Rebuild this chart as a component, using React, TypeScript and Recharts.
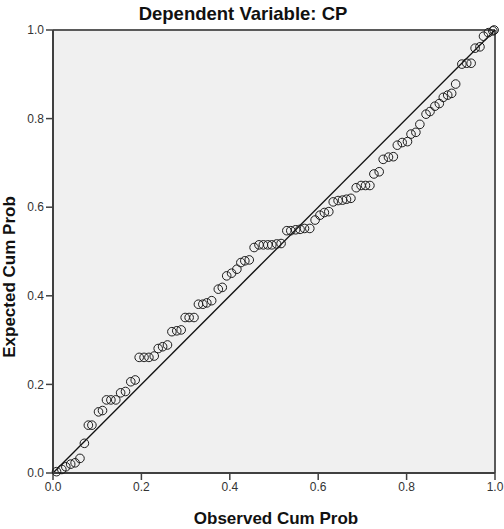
import React from 'react';
import { ScatterChart, Scatter, XAxis, YAxis, ReferenceLine, CartesianGrid } from 'recharts';

// P-P plot of regression standardized residual
const observed = [
  0.008, 0.02, 0.029, 0.04, 0.05, 0.061, 0.071, 0.08, 0.088, 0.103,
  0.112, 0.121, 0.131, 0.142, 0.153, 0.164, 0.176, 0.186, 0.195, 0.206,
  0.217, 0.229, 0.238, 0.248, 0.259, 0.269, 0.28, 0.29, 0.299, 0.308,
  0.319, 0.329, 0.339, 0.348, 0.359, 0.374, 0.383, 0.393, 0.404, 0.416,
  0.425, 0.434, 0.444, 0.455, 0.466, 0.476, 0.486, 0.495, 0.506, 0.516,
  0.529, 0.538, 0.549, 0.559, 0.569, 0.581, 0.593, 0.604, 0.614, 0.624,
  0.634, 0.645, 0.655, 0.664, 0.674, 0.686, 0.697, 0.707, 0.717, 0.726,
  0.738, 0.747, 0.759, 0.77, 0.779, 0.79, 0.802, 0.81, 0.821, 0.83,
  0.844, 0.853, 0.864, 0.874, 0.883, 0.893, 0.902, 0.911, 0.925, 0.936,
  0.946, 0.955, 0.966, 0.974, 0.985, 0.995, 0.998,
];
const expected = [
  0.003, 0.008, 0.014, 0.02, 0.023, 0.033, 0.067, 0.108, 0.108, 0.138,
  0.141, 0.165, 0.165, 0.165, 0.181, 0.184, 0.206, 0.21, 0.261, 0.261,
  0.261, 0.264, 0.281, 0.285, 0.289, 0.319, 0.321, 0.323, 0.351, 0.351,
  0.351, 0.381, 0.381, 0.384, 0.389, 0.415, 0.419, 0.445, 0.451, 0.46,
  0.475, 0.479, 0.481, 0.509, 0.515, 0.515, 0.515, 0.515, 0.517, 0.518,
  0.547, 0.547, 0.549, 0.55, 0.552, 0.552, 0.571, 0.582, 0.588, 0.59,
  0.612, 0.615, 0.616, 0.618, 0.62, 0.644, 0.649, 0.649, 0.649, 0.675,
  0.68, 0.708, 0.713, 0.714, 0.74, 0.746, 0.748, 0.765, 0.769, 0.787,
  0.81, 0.816, 0.828, 0.834, 0.848, 0.853, 0.857, 0.878, 0.923, 0.925,
  0.925, 0.959, 0.962, 0.986, 0.994, 0.998, 1.0,
];
const tickValues = [0, 0.2, 0.4, 0.6, 0.8, 1.0];

const title = 'Dependent Variable: CP';
const xTitle = 'Observed Cum Prob';
const yTitle = 'Expected Cum Prob';

const points = observed.map((x, i) => ({ x, y: expected[i] }));

const axisColor = '#404040';
const font = '"Liberation Sans", Arial, sans-serif';

const Ring = (props: any) => (
  <circle cx={props.cx} cy={props.cy} r={4.3} fill="none" stroke="#1c1c1c" strokeWidth={1} />
);

export default function App() {
  const tickStyle = { fill: '#333', fontSize: 12, fontFamily: font };
  return (
    <div style={{ position: 'absolute', left: 0, top: 0, width: 504, height: 529, background: '#fff', fontFamily: font }}>
      <ScatterChart width={504} height={529} margin={{ top: 30, right: 9, bottom: 0, left: 0 }}>
        <CartesianGrid fill="#f0f0f0" horizontal={false} vertical={false} />
        <XAxis
          type="number"
          dataKey="x"
          domain={[0, 1]}
          ticks={tickValues}
          tickFormatter={(v) => v.toFixed(1)}
          height={56}
          tickSize={7}
          tick={tickStyle}
          axisLine={{ stroke: axisColor, strokeWidth: 2 }}
          tickLine={{ stroke: axisColor, strokeWidth: 1.5 }}
        />
        <YAxis
          type="number"
          dataKey="y"
          domain={[0, 1]}
          ticks={tickValues}
          tickFormatter={(v) => v.toFixed(1)}
          width={53}
          tickSize={7}
          tick={tickStyle}
          axisLine={{ stroke: axisColor, strokeWidth: 2 }}
          tickLine={{ stroke: axisColor, strokeWidth: 1.5 }}
        />
        <ReferenceLine y={1} stroke="#5a5a5a" strokeWidth={2} />
        <ReferenceLine x={1} stroke="#5a5a5a" strokeWidth={2} />
        <ReferenceLine segment={[{ x: 0, y: 0 }, { x: 1, y: 1 }]} stroke="#111" strokeWidth={1.3} />
        <Scatter data={points} shape={Ring} isAnimationActive={false} />
      </ScatterChart>
      <div style={{ position: 'absolute', left: 243, top: 5, transform: 'translateX(-50%)', fontSize: 18.5, fontWeight: 'bold', color: '#111', whiteSpace: 'nowrap', lineHeight: 1 }}>
        {title}
      </div>
      <div style={{ position: 'absolute', left: 276, top: 518, transform: 'translate(-50%, -50%)', fontSize: 17, fontWeight: 'bold', color: '#111', whiteSpace: 'nowrap', lineHeight: 1 }}>
        {xTitle}
      </div>
      <div style={{ position: 'absolute', left: 9, top: 277, transform: 'translate(-50%, -50%) rotate(-90deg)', fontSize: 17, fontWeight: 'bold', color: '#111', whiteSpace: 'nowrap', lineHeight: 1 }}>
        {yTitle}
      </div>
    </div>
  );
}
